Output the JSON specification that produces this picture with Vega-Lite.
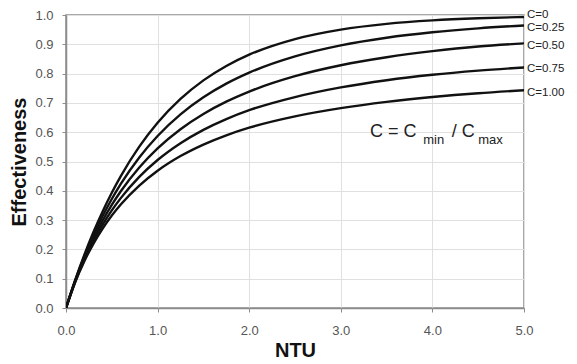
{
  "$schema": "https://vega.github.io/schema/vega-lite/v6.json",
  "width": 458,
  "height": 293,
  "autosize": {"type": "none"},
  "padding": {"left": 66, "top": 15, "right": 53, "bottom": 56},
  "background": "white",
  "config": {
    "font": "Liberation Sans",
    "view": {"stroke": "#8c8c8c", "strokeWidth": 1.5},
    "axis": {
      "domainColor": "#8c8c8c",
      "domainWidth": 1.5,
      "tickColor": "#8c8c8c",
      "gridColor": "#e0e0e0",
      "labelColor": "#555555",
      "labelFont": "Liberation Sans",
      "labelFontSize": 13,
      "titleFont": "Liberation Sans",
      "titleFontSize": 20,
      "titleFontWeight": "bold",
      "titleColor": "#111111"
    }
  },
  "datasets": {
    "curves": [
      {"ntu": 0, "eff": 0, "C": "C=0"},
      {"ntu": 0.1, "eff": 0.0952, "C": "C=0"},
      {"ntu": 0.2, "eff": 0.1813, "C": "C=0"},
      {"ntu": 0.3, "eff": 0.2592, "C": "C=0"},
      {"ntu": 0.4, "eff": 0.3297, "C": "C=0"},
      {"ntu": 0.5, "eff": 0.3935, "C": "C=0"},
      {"ntu": 0.6, "eff": 0.4512, "C": "C=0"},
      {"ntu": 0.8, "eff": 0.5507, "C": "C=0"},
      {"ntu": 1.0, "eff": 0.6321, "C": "C=0"},
      {"ntu": 1.25, "eff": 0.7135, "C": "C=0"},
      {"ntu": 1.5, "eff": 0.7769, "C": "C=0"},
      {"ntu": 1.75, "eff": 0.8262, "C": "C=0"},
      {"ntu": 2.0, "eff": 0.8647, "C": "C=0"},
      {"ntu": 2.5, "eff": 0.9179, "C": "C=0"},
      {"ntu": 3.0, "eff": 0.9502, "C": "C=0"},
      {"ntu": 3.5, "eff": 0.9698, "C": "C=0"},
      {"ntu": 4.0, "eff": 0.9817, "C": "C=0"},
      {"ntu": 4.5, "eff": 0.9889, "C": "C=0"},
      {"ntu": 5.0, "eff": 0.9933, "C": "C=0"},
      {"ntu": 0, "eff": 0, "C": "C=0.25"},
      {"ntu": 0.1, "eff": 0.0933, "C": "C=0.25"},
      {"ntu": 0.2, "eff": 0.1756, "C": "C=0.25"},
      {"ntu": 0.3, "eff": 0.2486, "C": "C=0.25"},
      {"ntu": 0.4, "eff": 0.3138, "C": "C=0.25"},
      {"ntu": 0.5, "eff": 0.3720, "C": "C=0.25"},
      {"ntu": 0.6, "eff": 0.4244, "C": "C=0.25"},
      {"ntu": 0.8, "eff": 0.5140, "C": "C=0.25"},
      {"ntu": 1.0, "eff": 0.5872, "C": "C=0.25"},
      {"ntu": 1.25, "eff": 0.6608, "C": "C=0.25"},
      {"ntu": 1.5, "eff": 0.7191, "C": "C=0.25"},
      {"ntu": 1.75, "eff": 0.7657, "C": "C=0.25"},
      {"ntu": 2.0, "eff": 0.8033, "C": "C=0.25"},
      {"ntu": 2.5, "eff": 0.8588, "C": "C=0.25"},
      {"ntu": 3.0, "eff": 0.8964, "C": "C=0.25"},
      {"ntu": 3.5, "eff": 0.9225, "C": "C=0.25"},
      {"ntu": 4.0, "eff": 0.9410, "C": "C=0.25"},
      {"ntu": 4.5, "eff": 0.9544, "C": "C=0.25"},
      {"ntu": 5.0, "eff": 0.9642, "C": "C=0.25"},
      {"ntu": 0, "eff": 0, "C": "C=0.50"},
      {"ntu": 0.1, "eff": 0.0915, "C": "C=0.50"},
      {"ntu": 0.2, "eff": 0.1701, "C": "C=0.50"},
      {"ntu": 0.3, "eff": 0.2385, "C": "C=0.50"},
      {"ntu": 0.4, "eff": 0.2987, "C": "C=0.50"},
      {"ntu": 0.5, "eff": 0.3520, "C": "C=0.50"},
      {"ntu": 0.6, "eff": 0.3993, "C": "C=0.50"},
      {"ntu": 0.8, "eff": 0.4796, "C": "C=0.50"},
      {"ntu": 1.0, "eff": 0.5448, "C": "C=0.50"},
      {"ntu": 1.25, "eff": 0.6102, "C": "C=0.50"},
      {"ntu": 1.5, "eff": 0.6623, "C": "C=0.50"},
      {"ntu": 1.75, "eff": 0.7043, "C": "C=0.50"},
      {"ntu": 2.0, "eff": 0.7387, "C": "C=0.50"},
      {"ntu": 2.5, "eff": 0.7911, "C": "C=0.50"},
      {"ntu": 3.0, "eff": 0.8284, "C": "C=0.50"},
      {"ntu": 3.5, "eff": 0.8558, "C": "C=0.50"},
      {"ntu": 4.0, "eff": 0.8766, "C": "C=0.50"},
      {"ntu": 4.5, "eff": 0.8926, "C": "C=0.50"},
      {"ntu": 5.0, "eff": 0.9030, "C": "C=0.50"},
      {"ntu": 0, "eff": 0, "C": "C=0.75"},
      {"ntu": 0.1, "eff": 0.0897, "C": "C=0.75"},
      {"ntu": 0.2, "eff": 0.1648, "C": "C=0.75"},
      {"ntu": 0.3, "eff": 0.2289, "C": "C=0.75"},
      {"ntu": 0.4, "eff": 0.2845, "C": "C=0.75"},
      {"ntu": 0.5, "eff": 0.3331, "C": "C=0.75"},
      {"ntu": 0.6, "eff": 0.3759, "C": "C=0.75"},
      {"ntu": 0.8, "eff": 0.4476, "C": "C=0.75"},
      {"ntu": 1.0, "eff": 0.5051, "C": "C=0.75"},
      {"ntu": 1.25, "eff": 0.5625, "C": "C=0.75"},
      {"ntu": 1.5, "eff": 0.6081, "C": "C=0.75"},
      {"ntu": 1.75, "eff": 0.6449, "C": "C=0.75"},
      {"ntu": 2.0, "eff": 0.6752, "C": "C=0.75"},
      {"ntu": 2.5, "eff": 0.7200, "C": "C=0.75"},
      {"ntu": 3.0, "eff": 0.7530, "C": "C=0.75"},
      {"ntu": 3.5, "eff": 0.7775, "C": "C=0.75"},
      {"ntu": 4.0, "eff": 0.7960, "C": "C=0.75"},
      {"ntu": 4.5, "eff": 0.8100, "C": "C=0.75"},
      {"ntu": 5.0, "eff": 0.8210, "C": "C=0.75"},
      {"ntu": 0, "eff": 0, "C": "C=1.00"},
      {"ntu": 0.1, "eff": 0.0880, "C": "C=1.00"},
      {"ntu": 0.2, "eff": 0.1597, "C": "C=1.00"},
      {"ntu": 0.3, "eff": 0.2199, "C": "C=1.00"},
      {"ntu": 0.4, "eff": 0.2712, "C": "C=1.00"},
      {"ntu": 0.5, "eff": 0.3155, "C": "C=1.00"},
      {"ntu": 0.6, "eff": 0.3540, "C": "C=1.00"},
      {"ntu": 0.8, "eff": 0.4179, "C": "C=1.00"},
      {"ntu": 1.0, "eff": 0.4685, "C": "C=1.00"},
      {"ntu": 1.25, "eff": 0.5185, "C": "C=1.00"},
      {"ntu": 1.5, "eff": 0.5578, "C": "C=1.00"},
      {"ntu": 1.75, "eff": 0.5895, "C": "C=1.00"},
      {"ntu": 2.0, "eff": 0.6154, "C": "C=1.00"},
      {"ntu": 2.5, "eff": 0.6540, "C": "C=1.00"},
      {"ntu": 3.0, "eff": 0.6820, "C": "C=1.00"},
      {"ntu": 3.5, "eff": 0.7035, "C": "C=1.00"},
      {"ntu": 4.0, "eff": 0.7200, "C": "C=1.00"},
      {"ntu": 4.5, "eff": 0.7330, "C": "C=1.00"},
      {"ntu": 5.0, "eff": 0.7430, "C": "C=1.00"}
    ],
    "labels": [
      {"ntu": 5.0, "eff": 1.0, "C": "C=0"},
      {"ntu": 5.0, "eff": 0.956, "C": "C=0.25"},
      {"ntu": 5.0, "eff": 0.895, "C": "C=0.50"},
      {"ntu": 5.0, "eff": 0.814, "C": "C=0.75"},
      {"ntu": 5.0, "eff": 0.735, "C": "C=1.00"}
    ],
    "annotMain": [
      {"ntu": 3.32, "eff": 0.583, "t": "C = C"},
      {"ntu": 4.21, "eff": 0.583, "t": "/ C"}
    ],
    "annotSub": [
      {"ntu": 3.90, "eff": 0.560, "t": "min"},
      {"ntu": 4.50, "eff": 0.560, "t": "max"}
    ]
  },
  "encoding": {
    "x": {
      "field": "ntu", "type": "quantitative",
      "scale": {"domain": [0, 5], "nice": false},
      "axis": {
        "title": "NTU", "values": [0, 1, 2, 3, 4, 5], "format": ".1f",
        "grid": true, "tickSize": 4, "labelPadding": 12, "titlePadding": 3,
        "labelFlush": false, "labelOverlap": false
      }
    },
    "y": {
      "field": "eff", "type": "quantitative",
      "scale": {"domain": [0, 1], "nice": false},
      "axis": {
        "title": "Effectiveness", "values": [0, 0.1, 0.2, 0.3, 0.4, 0.5, 0.6, 0.7, 0.8, 0.9, 1.0],
        "labelOverlap": false, "labelFlush": false,
        "format": ".1f", "grid": true, "tickSize": 4, "labelPadding": 9, "titlePadding": 5
      }
    }
  },
  "layer": [
    {
      "data": {"name": "curves"},
      "mark": {"type": "line", "color": "#111111", "strokeWidth": 2.4, "interpolate": "monotone", "clip": true},
      "encoding": {
        "detail": {"field": "C", "type": "nominal"}
      }
    },
    {
      "data": {"name": "labels"},
      "mark": {"type": "text", "align": "left", "baseline": "middle", "dx": 3, "fontSize": 11.5, "color": "#222222", "font": "Liberation Sans"},
      "encoding": {
        "text": {"field": "C", "type": "nominal"}
      }
    },
    {
      "data": {"name": "annotMain"},
      "mark": {"type": "text", "align": "left", "baseline": "alphabetic", "fontSize": 18, "color": "#222222", "font": "Liberation Sans"},
      "encoding": {
        "text": {"field": "t", "type": "nominal"}
      }
    },
    {
      "data": {"name": "annotSub"},
      "mark": {"type": "text", "align": "left", "baseline": "alphabetic", "fontSize": 13, "color": "#222222", "font": "Liberation Sans"},
      "encoding": {
        "text": {"field": "t", "type": "nominal"}
      }
    }
  ]
}
